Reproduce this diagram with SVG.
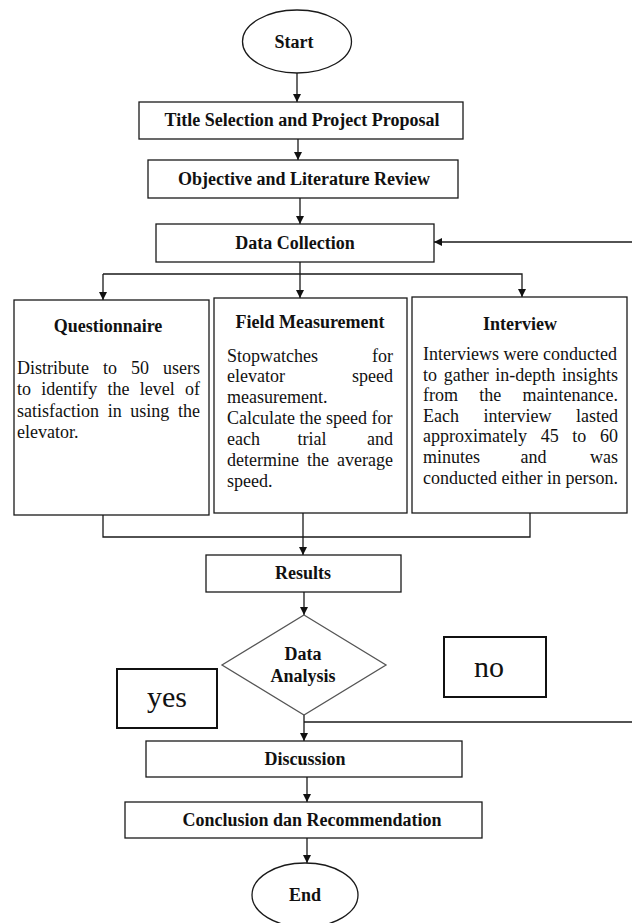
<svg xmlns="http://www.w3.org/2000/svg" width="632" height="923" viewBox="0 0 632 923">
<style>
.box{fill:#fff;stroke:#1a1a1a;stroke-width:1.3}
.lbl{fill:#fff;stroke:#111;stroke-width:2}
.dia{fill:#fff;stroke:#555;stroke-width:1.3}
.ln{fill:none;stroke:#1a1a1a;stroke-width:1.3}
.h{font-family:"Liberation Serif","Times New Roman",serif;font-weight:bold;font-size:18px;fill:#111;text-anchor:middle}
.b{font-family:"Liberation Serif","Times New Roman",serif;font-size:18px;fill:#111}
.e{text-anchor:end}
.big{font-family:"Liberation Serif","Times New Roman",serif;font-size:30px;fill:#111;text-anchor:middle}
</style>
<defs>
<marker id="arr" markerUnits="userSpaceOnUse" markerWidth="9" markerHeight="9" refX="8" refY="4" orient="auto">
<path d="M0,0 L8,4 L0,8 z" fill="#111"/>
</marker>
</defs>
<rect width="632" height="923" fill="#fff"/>

<g id="connectors">
<line class="ln" x1="297" y1="73" x2="297" y2="102" marker-end="url(#arr)"/>
<line class="ln" x1="298" y1="139" x2="298" y2="160" marker-end="url(#arr)"/>
<line class="ln" x1="300" y1="198" x2="300" y2="224" marker-end="url(#arr)"/>
<line class="ln" x1="632" y1="242" x2="434" y2="242" marker-end="url(#arr)"/>
<line class="ln" x1="300" y1="262" x2="300" y2="298" marker-end="url(#arr)"/>
<polyline class="ln" points="103,274 522,274 522,297" marker-end="url(#arr)"/>
<line class="ln" x1="103" y1="274" x2="103" y2="300" marker-end="url(#arr)"/>
<polyline class="ln" points="103,515 103,537 530,537 530,513"/>
<line class="ln" x1="303" y1="513" x2="303" y2="555" marker-end="url(#arr)"/>
<line class="ln" x1="304" y1="592" x2="304" y2="615" marker-end="url(#arr)"/>
<line class="ln" x1="304" y1="715" x2="304" y2="741" marker-end="url(#arr)"/>
<line class="ln" x1="304" y1="722" x2="632" y2="722"/>
<line class="ln" x1="307" y1="777" x2="307" y2="802" marker-end="url(#arr)"/>
<line class="ln" x1="307" y1="838" x2="307" y2="863" marker-end="url(#arr)"/>
</g>

<g id="start">
<ellipse class="box" cx="297" cy="41.5" rx="54.5" ry="31.5"/>
<text class="h" x="294" y="48">Start</text>
</g>

<g id="title-selection">
<rect class="box" x="139" y="102" width="324" height="37"/>
<text class="h" x="302" y="126">Title Selection and Project Proposal</text>
</g>

<g id="objective">
<rect class="box" x="148" y="160" width="310" height="38"/>
<text class="h" x="304" y="185">Objective and Literature Review</text>
</g>

<g id="data-collection">
<rect class="box" x="156" y="224" width="278" height="38"/>
<text class="h" x="295" y="249">Data Collection</text>
</g>

<g id="questionnaire">
<rect class="box" x="14" y="300" width="195" height="215"/>
<text class="h" x="108" y="332">Questionnaire</text>
<text class="b" y="374"><tspan x="17">Distribute</tspan><tspan x="103">to</tspan><tspan x="131">50</tspan></text>
<text class="b e" x="200" y="374">users</text>
<text class="b" y="395"><tspan x="17">to</tspan><tspan x="41.3">identify</tspan><tspan x="107.5">the</tspan><tspan x="139.8">level</tspan></text>
<text class="b e" x="200" y="395">of</text>
<text class="b" y="417"><tspan x="17">satisfaction</tspan><tspan x="107.7">in</tspan><tspan x="130.3">using</tspan></text>
<text class="b e" x="200" y="417">the</text>
<text class="b" x="17" y="438">elevator.</text>
</g>

<g id="field-measurement">
<rect class="box" x="214" y="298" width="193" height="215"/>
<text class="h" x="310" y="328">Field Measurement</text>
<text class="b" x="227" y="362">Stopwatches</text>
<text class="b e" x="393" y="362">for</text>
<text class="b" x="227" y="382">elevator</text>
<text class="b e" x="393" y="382">speed</text>
<text class="b" x="227" y="403">measurement.</text>
<text class="b" x="227" y="424">Calculate the speed for</text>
<text class="b" y="445"><tspan x="227">each</tspan><tspan x="297.5">trial</tspan></text>
<text class="b e" x="393" y="445">and</text>
<text class="b" y="466"><tspan x="227">determine</tspan><tspan x="307">the</tspan></text>
<text class="b e" x="393" y="466">average</text>
<text class="b" x="227" y="487">speed.</text>
</g>

<g id="interview">
<rect class="box" x="412" y="297" width="215" height="216"/>
<text class="h" x="520" y="330">Interview</text>
<text class="b" x="423" y="360">Interviews were conducted</text>
<text class="b" y="381"><tspan x="423">to</tspan><tspan x="443.7">gather</tspan><tspan x="495.3">in-depth</tspan></text>
<text class="b e" x="618" y="381">insights</text>
<text class="b" y="401"><tspan x="423">from</tspan><tspan x="479.3">the</tspan></text>
<text class="b e" x="618" y="401">maintenance.</text>
<text class="b" y="422"><tspan x="423">Each</tspan><tspan x="483.5">interview</tspan></text>
<text class="b e" x="618" y="422">lasted</text>
<text class="b" y="442"><tspan x="423">approximately</tspan><tspan x="540.7">45</tspan><tspan x="572.3">to</tspan></text>
<text class="b e" x="618" y="442">60</text>
<text class="b" y="463"><tspan x="423">minutes</tspan><tspan x="520.5">and</tspan></text>
<text class="b e" x="618" y="463">was</text>
<text class="b" x="423" y="484">conducted either in person.</text>
</g>

<g id="results">
<rect class="box" x="206" y="555" width="195" height="37"/>
<text class="h" x="303" y="579">Results</text>
</g>

<g id="data-analysis">
<polygon class="dia" points="304,615 386,665 304,715 222,665"/>
<text class="h" x="303" y="660">Data</text>
<text class="h" x="303" y="682">Analysis</text>
</g>

<g id="yes-label">
<rect class="lbl" x="117" y="669" width="100" height="59"/>
<text class="big" x="167" y="707">yes</text>
</g>

<g id="no-label">
<rect class="lbl" x="444" y="637" width="102" height="60"/>
<text class="big" x="489" y="677">no</text>
</g>

<g id="discussion">
<rect class="box" x="146" y="741" width="316" height="36"/>
<text class="h" x="305" y="765">Discussion</text>
</g>

<g id="conclusion">
<rect class="box" x="125" y="802" width="357" height="36"/>
<text class="h" x="312" y="826">Conclusion dan Recommendation</text>
</g>

<g id="end">
<ellipse class="box" cx="305" cy="895" rx="53" ry="32"/>
<text class="h" x="305" y="901">End</text>
</g>
</svg>
